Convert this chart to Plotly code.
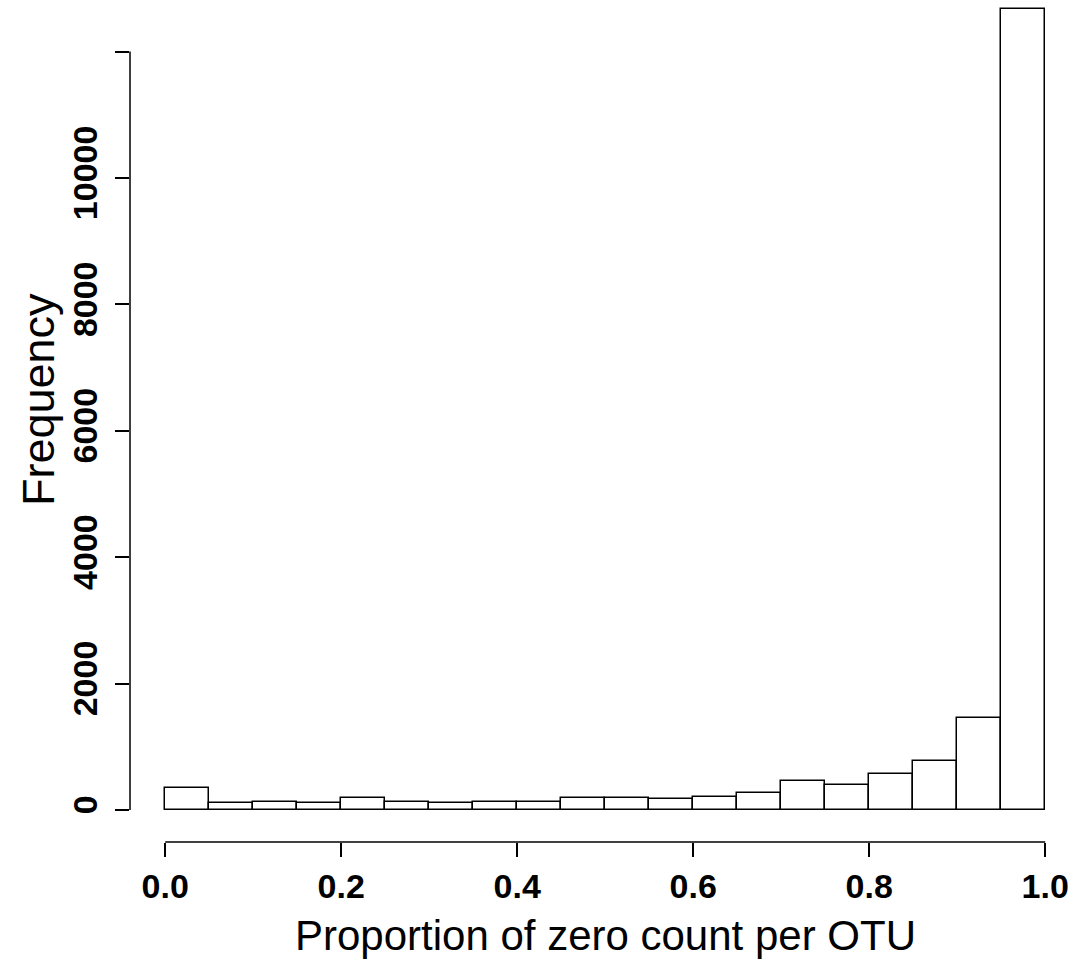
import plotly.graph_objects as go

# Histogram of the proportion of zero counts per OTU (bins of width 0.05)
bin_width = 0.05
bin_starts = [round(i * bin_width, 2) for i in range(20)]
counts = [348, 111, 122, 115, 190, 131, 111, 127, 131, 190,
          185, 180, 211, 269, 464, 401, 570, 780, 1460, 12674]

x_ticks = [0.0, 0.2, 0.4, 0.6, 0.8, 1.0]
x_tick_text = ["0.0", "0.2", "0.4", "0.6", "0.8", "1.0"]
y_ticks = [0, 2000, 4000, 6000, 8000, 10000, 12000]
y_tick_text = ["0", "2000", "4000", "6000", "8000", "10000", ""]

W, H = 1075, 963
ML, MB = 130, 121            # plot region: left edge / bottom margin in px
x_range = [-0.04, -0.04 + (W - ML) / 880.0]
px_per_count = 0.0632
y_range = [-(842 - 810) / px_per_count, 810 / px_per_count]

fig = go.Figure()
fig.add_trace(go.Bar(
    x=bin_starts, y=counts, width=bin_width, offset=0,
    marker=dict(color="white", line=dict(color="black", width=1.5)),
    showlegend=False, hoverinfo="x+y",
))

tick_font = dict(family="Liberation Sans, Arial, sans-serif", size=34, color="black", weight="bold")
title_font = dict(family="Liberation Sans, Arial, sans-serif", size=42, color="black")

fig.update_layout(
    width=W, height=H,
    margin=dict(l=ML, r=0, t=0, b=MB),
    plot_bgcolor="white", paper_bgcolor="white",
    bargap=0,
    xaxis=dict(range=x_range, tickvals=x_ticks, ticktext=x_tick_text,
               ticks="outside", ticklen=14, tickwidth=1.5, tickcolor="black",
               showgrid=False, zeroline=False, showline=False,
               tickfont=tick_font, automargin=False),
    yaxis=dict(range=y_range, tickvals=y_ticks, ticktext=y_tick_text,
               ticks="outside", ticklen=14, tickwidth=1.5, tickcolor="black",
               tickangle=-90, showgrid=False, zeroline=False, showline=False,
               tickfont=tick_font, automargin=False, ticklabelstandoff=4),
)

# Axis lines spanning only the tick range
fig.add_shape(type="line", xref="x", yref="paper",
              x0=x_ticks[0], x1=x_ticks[-1], y0=0, y1=0,
              line=dict(color="black", width=1.5))
fig.add_shape(type="line", xref="paper", yref="y",
              x0=0, x1=0, y0=y_ticks[0], y1=y_ticks[-1],
              line=dict(color="black", width=1.5))

plot_h = H - MB
fig.add_annotation(text="Proportion of zero count per OTU", xref="x", yref="paper",
                   x=0.5, y=-(935 - plot_h) / plot_h, showarrow=False,
                   xanchor="center", yanchor="middle", font=title_font)
fig.add_annotation(text="Frequency", xref="paper", yref="paper",
                   x=(38 - ML) / (W - ML), y=1 - 400 / plot_h, showarrow=False,
                   textangle=-90, xanchor="center", yanchor="middle",
                   font=dict(title_font, size=45))

fig.write_html("out.html")
